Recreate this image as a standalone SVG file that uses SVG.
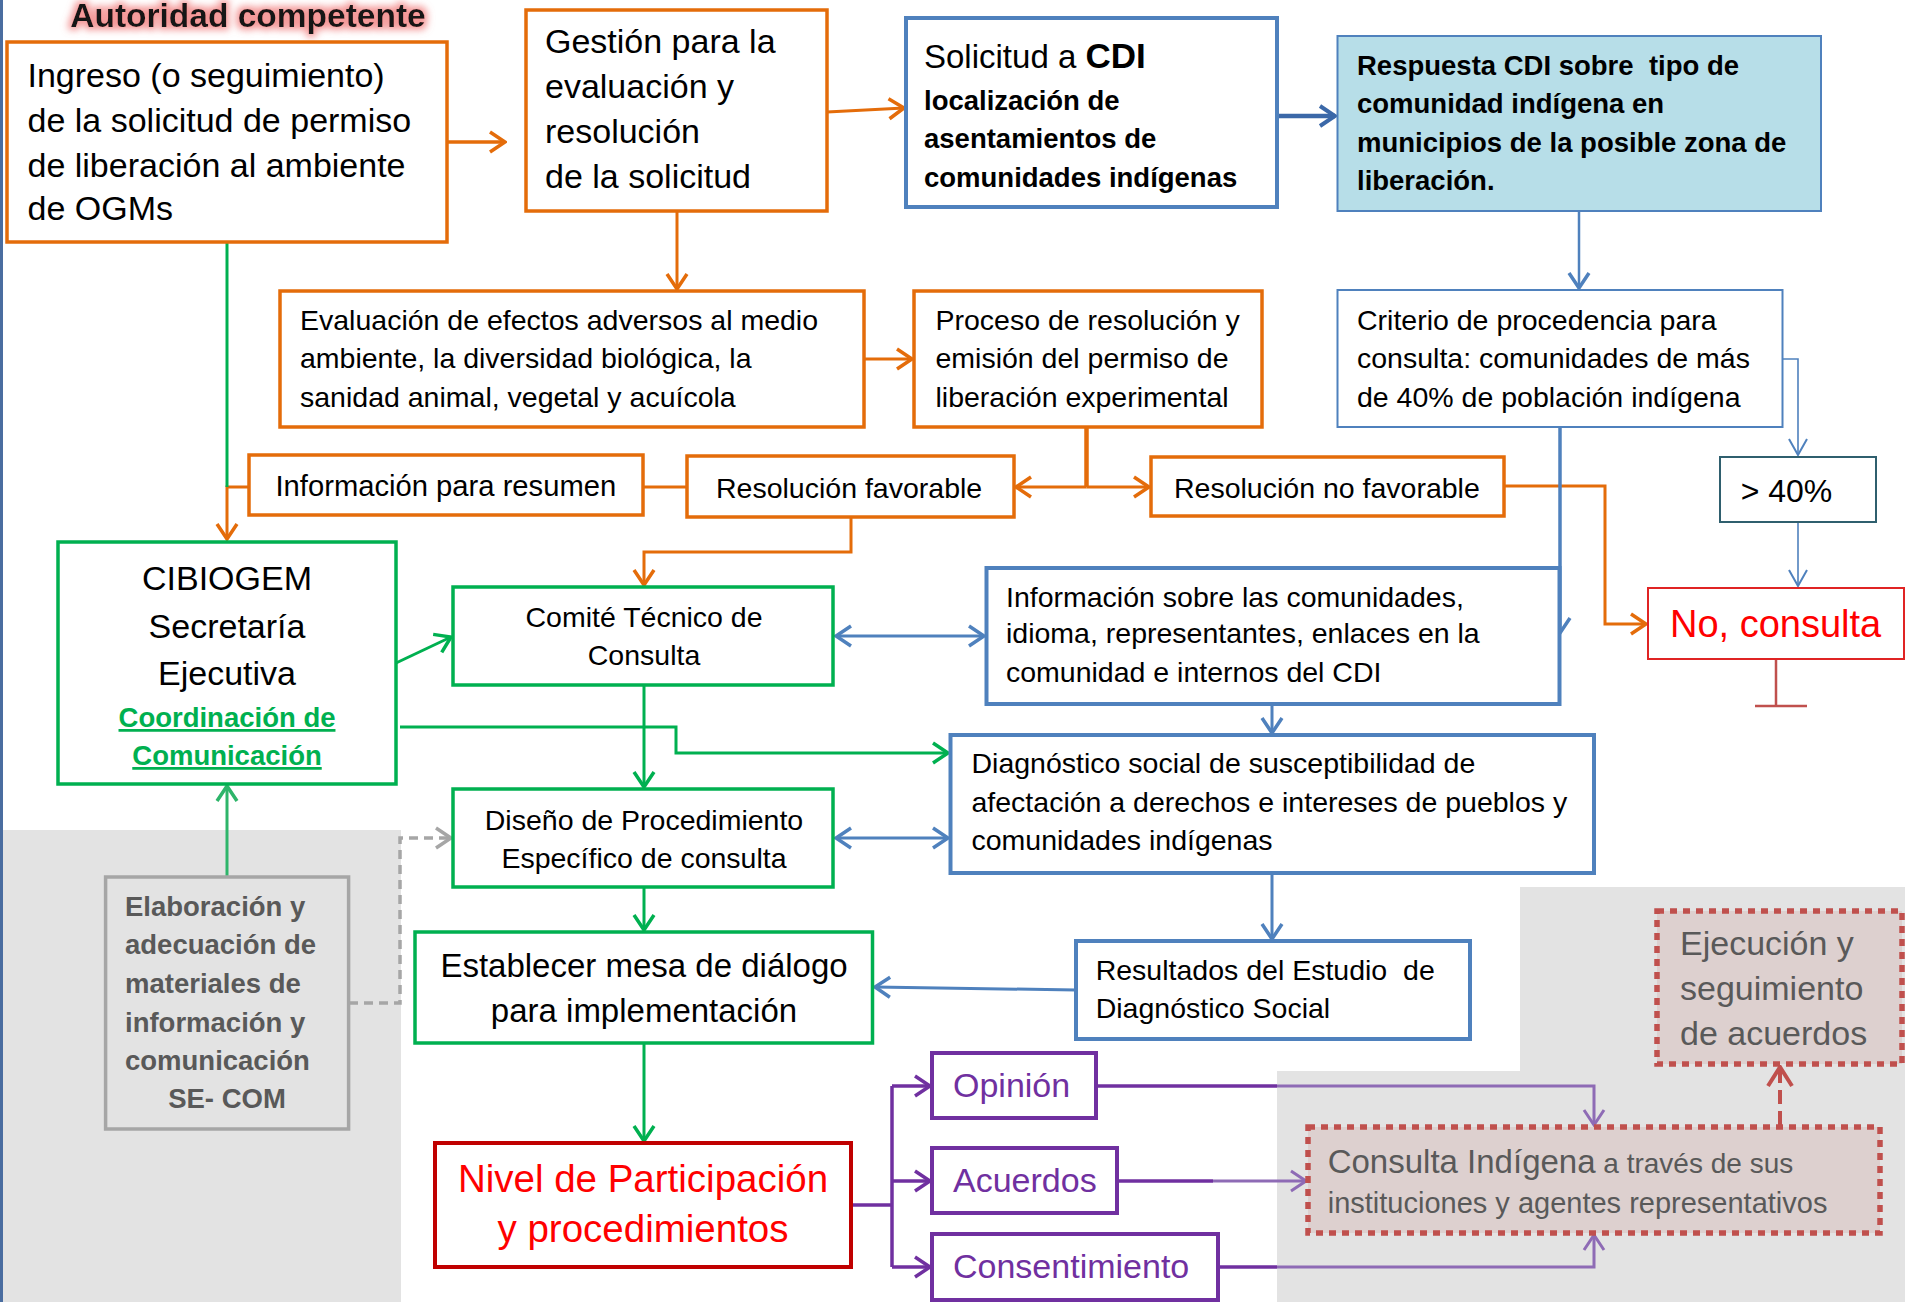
<svg xmlns="http://www.w3.org/2000/svg" width="1905" height="1302" viewBox="0 0 1905 1302">
<style>
text{font-family:'Liberation Sans',Arial,sans-serif;fill:#000}
.s285{font-size:28.5px}
.s34{font-size:34px}
.b{font-weight:bold}
.mid{text-anchor:middle}
.box{fill:#fff}
.or{stroke:#e46c0a;stroke-width:3.5}
.gr{stroke:#00b050;stroke-width:3.5}
.bl{stroke:#4f81bd;stroke-width:4}
.blt{stroke:#4f81bd;stroke-width:2}
.pu{stroke:#7030a0;stroke-width:4}
.dot{fill:#ddd0cf;stroke:#c0504d;stroke-width:5.5;stroke-dasharray:7 6}
.gray{fill:#595959}
.c{fill:none}
.cO{stroke:#e46c0a;stroke-width:3}
.cG{stroke:#00b050;stroke-width:3}
.cB{stroke:#4f81bd;stroke-width:3}
.cP{stroke:#7030a0;stroke-width:3.5}
.cPL{stroke:#8e6bb5;stroke-width:3}
</style>
<defs>
<filter id="glow" x="-10%" y="-60%" width="120%" height="220%">
<feMorphology in="SourceAlpha" operator="dilate" radius="3" result="d"/>
<feGaussianBlur in="d" stdDeviation="3.5" result="bl"/>
<feFlood flood-color="#f07878" flood-opacity="0.75"/>
<feComposite in2="bl" operator="in" result="g"/>
<feMerge><feMergeNode in="g"/><feMergeNode in="SourceGraphic"/></feMerge>
</filter>
<marker id="aO" markerUnits="userSpaceOnUse" viewBox="0 0 20 24" refX="18" refY="12" markerWidth="20" markerHeight="24" orient="auto-start-reverse"><path d="M3,2 L18,12 L3,22" fill="none" stroke="#e46c0a" stroke-width="3.5"/></marker>
<marker id="aG" markerUnits="userSpaceOnUse" viewBox="0 0 20 24" refX="18" refY="12" markerWidth="20" markerHeight="24" orient="auto-start-reverse"><path d="M3,2 L18,12 L3,22" fill="none" stroke="#00b050" stroke-width="3.5"/></marker>
<marker id="aGL" markerUnits="userSpaceOnUse" viewBox="0 0 20 24" refX="18" refY="12" markerWidth="20" markerHeight="24" orient="auto-start-reverse"><path d="M3,2 L18,12 L3,22" fill="none" stroke="#2eb56a" stroke-width="3.5"/></marker>
<marker id="aB" markerUnits="userSpaceOnUse" viewBox="0 0 20 24" refX="18" refY="12" markerWidth="20" markerHeight="24" orient="auto-start-reverse"><path d="M3,2 L18,12 L3,22" fill="none" stroke="#4f81bd" stroke-width="3.5"/></marker>
<marker id="aBD" markerUnits="userSpaceOnUse" viewBox="0 0 20 24" refX="18" refY="12" markerWidth="20" markerHeight="24" orient="auto-start-reverse"><path d="M3,2 L18,12 L3,22" fill="none" stroke="#3b68a8" stroke-width="4"/></marker>
<marker id="aBT" markerUnits="userSpaceOnUse" viewBox="0 0 20 24" refX="18" refY="12" markerWidth="20" markerHeight="24" orient="auto-start-reverse"><path d="M2,3 L18,12 L2,21" fill="none" stroke="#4f81bd" stroke-width="2"/></marker>
<marker id="aP" markerUnits="userSpaceOnUse" viewBox="0 0 20 24" refX="18" refY="12" markerWidth="20" markerHeight="24" orient="auto-start-reverse"><path d="M3,2 L18,12 L3,22" fill="none" stroke="#7030a0" stroke-width="3.5"/></marker>
<marker id="aPL" markerUnits="userSpaceOnUse" viewBox="0 0 20 24" refX="18" refY="12" markerWidth="20" markerHeight="24" orient="auto-start-reverse"><path d="M3,2 L18,12 L3,22" fill="none" stroke="#8e6bb5" stroke-width="3"/></marker>
<marker id="aGy" markerUnits="userSpaceOnUse" viewBox="0 0 20 24" refX="18" refY="12" markerWidth="20" markerHeight="24" orient="auto-start-reverse"><path d="M3,2 L18,12 L3,22" fill="none" stroke="#a6a6a6" stroke-width="3.5"/></marker>
<marker id="aR" markerUnits="userSpaceOnUse" viewBox="0 0 24 28" refX="22" refY="14" markerWidth="24" markerHeight="28" orient="auto-start-reverse"><path d="M3,2 L22,14 L3,26" fill="none" stroke="#c0504d" stroke-width="4"/></marker>
</defs>
<rect x="0" y="0" width="1905" height="1302" fill="#fff"/>
<g id="backgrounds">
<rect x="0" y="830" width="401" height="472" fill="#e3e3e3"/>
<path d="M1520,887 H1905 V1302 H1277 V1071 H1520 Z" fill="#e3e3e3"/>
<line x1="1.5" y1="0" x2="1.5" y2="1302" stroke="#4a6da0" stroke-width="3"/>
</g>
<g id="title">
<text x="248" y="27" class="b mid" style="font-size:33.5px;fill:#141414" filter="url(#glow)">Autoridad competente</text>
</g>
<g id="connectors" class="c">
<path class="cO" d="M447,142 H505" marker-end="url(#aO)" style="stroke-width:3.5"/>
<path class="cO" d="M827,112 L904,108" marker-end="url(#aO)"/>
<path class="cO" d="M677,211 V289" marker-end="url(#aO)"/>
<path class="cO" d="M864,359 H912" marker-end="url(#aO)"/>
<path class="cO" d="M1086.5,427 V487" style="stroke-width:4.5"/>
<path class="cO" d="M1086.5,487 H1016" marker-end="url(#aO)"/>
<path class="cO" d="M1086.5,487 H1149" marker-end="url(#aO)"/>
<path class="cO" d="M687,487 H643"/>
<path class="cO" d="M249,487 H227 V539" marker-end="url(#aO)"/>
<path class="cO" d="M851,517 V552 H644 V585" marker-end="url(#aO)"/>
<path class="cO" d="M1504,486 H1605 V624 H1646" marker-end="url(#aO)"/>
<path class="cG" d="M227,242 V487"/>
<path class="cG" d="M396,663 L451,637" marker-end="url(#aG)"/>
<path class="cG" d="M400,727 H676 V753 H948" marker-end="url(#aG)"/>
<path class="cG" d="M644,685 V787" marker-end="url(#aG)"/>
<path class="cG" d="M644,887 V930" marker-end="url(#aG)"/>
<path class="cG" d="M644,1043 V1141" marker-end="url(#aG)"/>
<path class="cG" d="M227,877 V786" marker-end="url(#aGL)" style="stroke:#2eb56a"/>
<path class="cB" d="M1277,116 H1335" marker-end="url(#aBD)" style="stroke:#3b68a8;stroke-width:4.5"/>
<path class="cB" d="M1579,211 V288" marker-end="url(#aB)" style="stroke-width:2.5"/>
<path class="cB" d="M1560,427 V633" marker-end="url(#aB)" style="stroke-width:3.5"/>
<path class="cB" d="M1782,359 H1798 V455" marker-end="url(#aBT)" style="stroke-width:1.6"/>
<path class="cB" d="M1798,522 V586" marker-end="url(#aBT)" style="stroke-width:1.6"/>
<path class="cB" d="M836,636 H984" marker-start="url(#aB)" marker-end="url(#aB)"/>
<path class="cB" d="M836,838 H948" marker-start="url(#aB)" marker-end="url(#aB)"/>
<path class="cB" d="M1272,704 V733" marker-end="url(#aB)"/>
<path class="cB" d="M1272,873 V939" marker-end="url(#aB)"/>
<path class="cB" d="M1076,990 L875,987" marker-end="url(#aB)"/>
<path d="M349,1003 H400 V838 H451" stroke="#a6a6a6" stroke-width="3.5" stroke-dasharray="9 6" marker-end="url(#aGy)"/>
<path class="cP" d="M851,1205 H892"/>
<path class="cP" d="M892,1086 V1267"/>
<path class="cP" d="M892,1086 H930" marker-end="url(#aP)"/>
<path class="cP" d="M892,1181 H930" marker-end="url(#aP)"/>
<path class="cP" d="M892,1267 H930" marker-end="url(#aP)"/>
<path class="cP" d="M1096,1086 H1277"/>
<path class="cPL" d="M1277,1086 H1594 V1125" marker-end="url(#aPL)"/>
<path class="cP" d="M1117,1181 H1213"/>
<path class="cPL" d="M1213,1181 H1306" marker-end="url(#aPL)"/>
<path class="cP" d="M1218,1267 H1277"/>
<path class="cPL" d="M1277,1267 H1594 V1235" marker-end="url(#aPL)"/>
<path d="M1780,1125 V1067" stroke="#c0504d" stroke-width="4" stroke-dasharray="14 7" marker-end="url(#aR)"/>
<path d="M1776,659 V706 M1755,706 H1807" stroke="#c0504d" stroke-width="2.5"/>
</g>
<g id="n-ingreso">
<rect class="box or" x="7" y="42" width="440" height="200"/>
<text class="s34"><tspan x="27.5" y="87">Ingreso (o seguimiento)</tspan><tspan x="27.5" y="132">de la solicitud de permiso</tspan><tspan x="27.5" y="177">de liberación al ambiente</tspan><tspan x="27.5" y="220">de OGMs</tspan></text>
</g>
<g id="n-gestion">
<rect class="box or" x="526" y="10" width="301" height="201"/>
<text class="s34"><tspan x="545" y="53">Gestión para la</tspan><tspan x="545" y="98">evaluación y</tspan><tspan x="545" y="143">resolución</tspan><tspan x="545" y="188">de la solicitud</tspan></text>
</g>
<g id="n-solicitud">
<rect class="box bl" x="906" y="18" width="371" height="189"/>
<text x="924" y="68" style="font-size:33px">Solicitud a <tspan class="b" style="font-size:35px">CDI</tspan></text>
<text class="b" style="font-size:27.5px"><tspan x="924" y="110">localización de</tspan><tspan x="924" y="148">asentamientos de</tspan><tspan x="924" y="187">comunidades indígenas</tspan></text>
</g>
<g id="n-respuesta">
<rect x="1337.5" y="36" width="483.5" height="175" fill="#b7dee8" stroke="#4f81bd" stroke-width="2"/>
<text class="b" style="font-size:27.5px" xml:space="preserve"><tspan x="1357" y="75">Respuesta CDI sobre  tipo de</tspan><tspan x="1357" y="113">comunidad indígena en</tspan><tspan x="1357" y="152">municipios de la posible zona de</tspan><tspan x="1357" y="190">liberación.</tspan></text>
</g>
<g id="n-evaluacion">
<rect class="box or" x="280" y="291" width="584" height="136"/>
<text class="s285"><tspan x="300" y="330">Evaluación de efectos adversos al medio</tspan><tspan x="300" y="368">ambiente, la diversidad biológica, la</tspan><tspan x="300" y="407">sanidad animal, vegetal y acuícola</tspan></text>
</g>
<g id="n-proceso">
<rect class="box or" x="914" y="291" width="348" height="136"/>
<text class="s285"><tspan x="935.5" y="330">Proceso de resolución y</tspan><tspan x="935.5" y="368">emisión del permiso de</tspan><tspan x="935.5" y="407">liberación experimental</tspan></text>
</g>
<g id="n-criterio">
<rect class="box blt" x="1337.5" y="290" width="445" height="137"/>
<text class="s285"><tspan x="1357" y="330">Criterio de procedencia para</tspan><tspan x="1357" y="368">consulta: comunidades de más</tspan><tspan x="1357" y="407">de 40% de población indígena</tspan></text>
</g>
<g id="n-resumen">
<rect class="box or" x="249" y="455" width="394" height="60"/>
<text x="275.5" y="496" style="font-size:29.2px">Información para resumen</text>
</g>
<g id="n-favorable">
<rect class="box or" x="687" y="456" width="327" height="61"/>
<text class="s285" x="716" y="498">Resolución favorable</text>
</g>
<g id="n-nofavorable">
<rect class="box or" x="1151" y="457" width="353" height="59"/>
<text class="s285" x="1174" y="498">Resolución no favorable</text>
</g>
<g id="n-mas40">
<rect class="box" x="1720" y="457" width="156" height="65" stroke="#2f5f6e" stroke-width="2"/>
<text x="1740.7" y="501.7" style="font-size:32px">&gt; 40%</text>
</g>
<g id="n-noconsulta">
<rect class="box" x="1648" y="588" width="256" height="71" stroke="#e02424" stroke-width="2"/>
<text x="1670" y="637" style="font-size:38px;fill:#ff0000">No, consulta</text>
</g>
<g id="n-cibiogem">
<rect class="box gr" x="58" y="542" width="338" height="242"/>
<text class="s34 mid"><tspan x="227" y="590">CIBIOGEM</tspan><tspan x="227" y="638">Secretaría</tspan><tspan x="227" y="685">Ejecutiva</tspan></text>
<text class="b mid" style="font-size:27.5px;fill:#00b050;text-decoration:underline"><tspan x="227" y="727">Coordinación de</tspan><tspan x="227" y="765">Comunicación</tspan></text>
</g>
<g id="n-comite">
<rect class="box gr" x="453" y="587" width="380" height="98"/>
<text class="s285 mid"><tspan x="644" y="627">Comité Técnico de</tspan><tspan x="644" y="665">Consulta</tspan></text>
</g>
<g id="n-infocom">
<rect class="box bl" x="986.5" y="568" width="573" height="136"/>
<text class="s285"><tspan x="1006" y="607">Información sobre las comunidades,</tspan><tspan x="1006" y="643">idioma, representantes, enlaces en la</tspan><tspan x="1006" y="682">comunidad e internos del CDI</tspan></text>
</g>
<g id="n-diseno">
<rect class="box gr" x="453" y="789" width="380" height="98"/>
<text class="s285 mid"><tspan x="644" y="830">Diseño de Procedimiento</tspan><tspan x="644" y="868">Específico de consulta</tspan></text>
</g>
<g id="n-diagnostico">
<rect class="box bl" x="950.5" y="735" width="643.5" height="138"/>
<text class="s285"><tspan x="971.5" y="773">Diagnóstico social de susceptibilidad de</tspan><tspan x="971.5" y="812">afectación a derechos e intereses de pueblos y</tspan><tspan x="971.5" y="850">comunidades indígenas</tspan></text>
</g>
<g id="n-elaboracion">
<rect x="105.6" y="877" width="243" height="252" fill="#e3e3e3" stroke="#a6a6a6" stroke-width="3.5"/>
<text class="b gray" style="font-size:27.5px"><tspan x="125" y="916">Elaboración y</tspan><tspan x="125" y="954">adecuación de</tspan><tspan x="125" y="993">materiales de</tspan><tspan x="125" y="1032">información y</tspan><tspan x="125" y="1070">comunicación</tspan><tspan x="227" y="1108" text-anchor="middle">SE- COM</tspan></text>
</g>
<g id="n-establecer">
<rect class="box gr" x="415" y="932" width="457.5" height="111"/>
<text class="mid" style="font-size:33px"><tspan x="644" y="977">Establecer mesa de diálogo</tspan><tspan x="644" y="1022">para implementación</tspan></text>
</g>
<g id="n-resultados">
<rect class="box bl" x="1076" y="941" width="394" height="98"/>
<text class="s285" xml:space="preserve"><tspan x="1095.7" y="980">Resultados del Estudio  de</tspan><tspan x="1095.7" y="1018">Diagnóstico Social</tspan></text>
</g>
<g id="n-nivel">
<rect class="box" x="435" y="1143" width="416" height="124" stroke="#c00000" stroke-width="4"/>
<text class="mid" style="font-size:38.5px;fill:#ff0000"><tspan x="643" y="1192">Nivel de Participación</tspan><tspan x="643" y="1242">y procedimientos</tspan></text>
</g>
<g id="n-opinion">
<rect class="box pu" x="932" y="1053" width="164" height="65"/>
<text class="s34" x="953" y="1097" style="fill:#7030a0">Opinión</text>
</g>
<g id="n-acuerdos">
<rect class="box pu" x="932" y="1148" width="185" height="65"/>
<text class="s34" x="953" y="1192" style="fill:#7030a0">Acuerdos</text>
</g>
<g id="n-consentimiento">
<rect class="box pu" x="932" y="1234" width="286" height="66"/>
<text class="s34" x="953" y="1278" style="fill:#7030a0">Consentimiento</text>
</g>
<g id="n-consulta">
<rect class="dot" x="1308" y="1127" width="572" height="106"/>
<text class="gray" x="1327.7" y="1173" style="font-size:33px">Consulta Indígena<tspan style="font-size:28px"> a través de sus</tspan></text>
<text class="gray" x="1327.7" y="1213" style="font-size:29px">instituciones y agentes representativos</text>
</g>
<g id="n-ejecucion">
<rect class="dot" x="1657" y="911" width="245" height="153"/>
<text class="gray s34"><tspan x="1680" y="955">Ejecución y</tspan><tspan x="1680" y="1000">seguimiento</tspan><tspan x="1680" y="1045">de acuerdos</tspan></text>
</g>
</svg>
